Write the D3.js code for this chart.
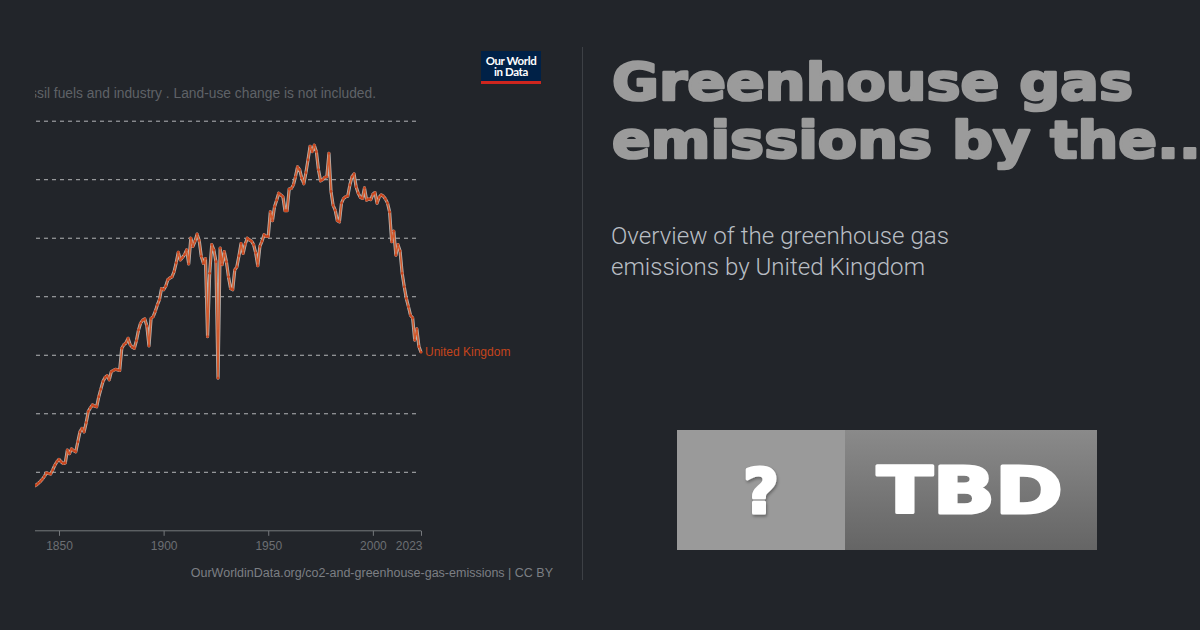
<!DOCTYPE html>
<html lang="en">
<head>
  <meta charset="UTF-8">
  <title>Greenhouse gas emissions by the United Kingdom</title>
  <script src="https://d3js.org/d3.v7.min.js"></script>
  <style>
    html, body {
      margin: 0;
      padding: 0;
      background-color: #22252a;
    }
    svg {
      display: block;
    }
  </style>
</head>
<body>
  <div id="viz"></div>

  <script>
    // Annual CO2 emissions, United Kingdom (million tonnes)
    const firstYear = 1838;
    const emissions = [
      76, 78, 81, 84, 88, 93, 99, 98, 97, 104, 112, 118,           // 1838-1849
      122, 118, 115, 116, 138, 132, 140, 137, 135, 152,           // 1850-1859
      169, 175, 169, 185, 204, 210, 215, 213, 212, 229,           // 1860-1869
      242, 255, 262, 265, 258, 272, 274, 276, 275, 274,           // 1870-1879
      312, 318, 321, 329, 318, 314, 312, 325, 343, 355,           // 1880-1889
      360, 362, 350, 316, 363, 366, 375, 386, 395, 414,           // 1890-1899
      412, 418, 429, 432, 434, 443, 458, 476, 463, 467,           // 1900-1909
      472, 480, 456, 500, 486, 495, 507, 496, 469, 457,           // 1910-1919
      465, 332, 440, 489, 480, 460, 261, 483, 455, 477,           // 1920-1929
      460, 434, 414, 412, 446, 451, 470, 491, 474, 490,           // 1930-1939
      500, 497, 495, 489, 475, 453, 486, 495, 506, 503,           // 1940-1949
      503, 545, 530, 554, 565, 577, 574, 571, 547, 547,           // 1950-1959
      584, 585, 591, 605, 622, 617, 603, 593, 612, 634,           // 1960-1969
      657, 648, 659, 648, 617, 598, 600, 604, 605, 645,           // 1970-1979
      580, 556, 548, 530, 528, 560, 568, 571, 572, 591,           // 1980-1989
      605, 610, 588, 577, 570, 568, 586, 565, 567, 566,           // 1990-1999
      575, 578, 560, 570, 574, 572, 567, 560, 545, 494,           // 2000-2009
      512, 471, 489, 478, 440, 417, 397, 383, 368, 364,           // 2010-2019
      326, 345, 315, 305                                          // 2020-2023
    ];
    const years = d3.range(firstYear, firstYear + emissions.length);
    const series = years.map((y, i) => ({ year: y, value: emissions[i] }));

    const xTicks = [1850, 1900, 1950, 2000, 2023];
    const yGrid = [100, 200, 300, 400, 500, 600, 700];
    const entityName = "United Kingdom";

    const titleLines = ["Greenhouse gas", "emissions by the..."];
    const subtitleLines = ["Overview of the greenhouse gas", "emissions by United Kingdom"];
    const chartSubtitle = "fossil fuels and industry . Land-use change is not included.";
    const sourceText = "OurWorldinData.org/co2-and-greenhouse-gas-emissions | CC BY";

    const svg = d3.select("#viz").append("svg")
      .attr("width", 1200)
      .attr("height", 630);

    const defs = svg.append("defs");
    defs.append("clipPath").attr("id", "chartClip")
      .append("rect").attr("x", 35).attr("y", 0).attr("width", 545).attr("height", 630);

    const grad = defs.append("linearGradient").attr("id", "tbdGrad")
      .attr("x1", 0).attr("y1", 0).attr("x2", 0).attr("y2", 1);
    grad.append("stop").attr("offset", "0%").attr("stop-color", "#8a8a8a");
    grad.append("stop").attr("offset", "100%").attr("stop-color", "#656565");

    const shadow = defs.append("filter").attr("id", "qShadow")
      .attr("x", "-20%").attr("y", "-20%").attr("width", "140%").attr("height", "140%");
    shadow.append("feDropShadow").attr("dx", 1).attr("dy", 2).attr("stdDeviation", 1.5)
      .attr("flood-color", "#000").attr("flood-opacity", 0.35);

    // ---- chart (clipped on the left like the thumbnail) ----
    const chart = svg.append("g").attr("clip-path", "url(#chartClip)");

    const x = d3.scaleLinear()
      .domain([1850, 2023])
      .range([59, 421]);

    const y = d3.scaleLinear()
      .domain([0, 700])
      .range([530.8, 121.2]);

    // chart subtitle (cut off on the left)
    const subFont = "13.8px";
    const sub = chart.append("text")
      .attr("y", 98)
      .attr("font-family", "Liberation Sans, Arial, sans-serif")
      .attr("font-size", subFont)
      .attr("fill", "#5f6267")
      .text(chartSubtitle);
    const tmp = chart.append("text")
      .attr("font-family", "Liberation Sans, Arial, sans-serif")
      .attr("font-size", subFont)
      .text("fos");
    const cut = tmp.node().getComputedTextLength();
    tmp.remove();
    sub.attr("x", 37 - cut);

    // gridlines
    chart.append("g")
      .selectAll("line")
      .data(yGrid)
      .enter()
      .append("line")
      .attr("x1", 20)
      .attr("x2", 420)
      .attr("y1", d => y(d))
      .attr("y2", d => y(d))
      .attr("stroke", "#b4b6b8")
      .attr("stroke-width", 1)
      .attr("stroke-dasharray", "4,4");

    // x axis
    const xAxis = chart.append("g")
      .attr("transform", `translate(0, ${y(0)})`)
      .call(d3.axisBottom(x).tickValues(xTicks).tickSize(5).tickSizeOuter(0).tickFormat(d3.format("d")));
    xAxis.select(".domain").remove();
    xAxis.append("line")
      .attr("x1", 20).attr("x2", x(2023))
      .attr("stroke", "#76797d").attr("stroke-width", 1);
    xAxis.selectAll(".tick line").attr("stroke", "#76797d");
    xAxis.selectAll(".tick text")
      .attr("fill", "#6c6f73")
      .attr("font-family", "Liberation Sans, Arial, sans-serif")
      .attr("font-size", "12px")
      .attr("dy", "0.9em");
    xAxis.selectAll(".tick").filter(d => d === 2023)
      .select("text").attr("text-anchor", "end").attr("x", 1);

    const line = d3.line()
      .x(d => x(d.year))
      .y(d => y(d.value));

    chart.append("path")
      .datum(series)
      .attr("fill", "none")
      .attr("stroke", "#b9b4b0")
      .attr("stroke-width", 3.2)
      .attr("stroke-linejoin", "round")
      .attr("d", line);

    chart.append("path")
      .datum(series)
      .attr("fill", "none")
      .attr("stroke", "#d4501f")
      .attr("stroke-opacity", 0.9)
      .attr("stroke-width", 1.6)
      .attr("stroke-linejoin", "round")
      .attr("d", line);

    chart.selectAll("circle.pt")
      .data(series)
      .enter()
      .append("circle")
      .attr("class", "pt")
      .attr("cx", d => x(d.year))
      .attr("cy", d => y(d.value))
      .attr("r", 1.4)
      .attr("fill", "#c8461f");

    const last = series[series.length - 1];
    chart.append("text")
      .attr("x", x(last.year) + 4)
      .attr("y", y(last.value) + 4)
      .attr("font-family", "Liberation Sans, Arial, sans-serif")
      .attr("font-size", "12px")
      .attr("fill", "#c4441c")
      .text(entityName);

    // source
    svg.append("text")
      .attr("x", 553)
      .attr("y", 577)
      .attr("text-anchor", "end")
      .attr("font-family", "Liberation Sans, Arial, sans-serif")
      .attr("font-size", "12.5px")
      .attr("fill", "#7c7f84")
      .text(sourceText);

    // OWID logo
    const logo = svg.append("g").attr("transform", "translate(481,51)");
    logo.append("rect").attr("width", 60).attr("height", 30).attr("fill", "#002147");
    logo.append("rect").attr("y", 30).attr("width", 60).attr("height", 3).attr("fill", "#ce261e");
    logo.selectAll("text")
      .data(["Our World", "in Data"])
      .enter()
      .append("text")
      .attr("x", 30)
      .attr("y", (d, i) => 14 + i * 11)
      .attr("text-anchor", "middle")
      .attr("font-family", "Lato, sans-serif")
      .attr("font-weight", "bold")
      .attr("font-size", "11.5px")
      .attr("letter-spacing", "-0.4px")
      .attr("fill", "#fff")
      .text(d => d);

    // divider
    svg.append("line")
      .attr("x1", 582.5).attr("x2", 582.5)
      .attr("y1", 47).attr("y2", 580)
      .attr("stroke", "#3d4045").attr("stroke-width", 1);

    // ---- right panel ----
    const heavy = sel => sel
      .attr("font-family", "DejaVu Sans, sans-serif")
      .attr("font-weight", "bold")
      .attr("stroke-linejoin", "round");

    const title = svg.append("g");
    const t1 = title.append("text")
      .attr("x", 612).attr("y", 100)
      .call(heavy)
      .attr("font-size", "51px")
      .attr("fill", "#9b9b9b")
      .attr("stroke", "#9b9b9b")
      .attr("stroke-width", 2.6)
      .text(titleLines[0]);
    const w1 = t1.node().getComputedTextLength();
    const stretch = 521 / w1;
    t1.attr("textLength", 521).attr("lengthAdjust", "spacingAndGlyphs");
    const t2 = title.append("text")
      .attr("x", 612).attr("y", 158)
      .call(heavy)
      .attr("font-size", "51px")
      .attr("fill", "#9b9b9b")
      .attr("stroke", "#9b9b9b")
      .attr("stroke-width", 2.6)
      .text(titleLines[1]);
    const w2 = t2.node().getComputedTextLength();
    t2.attr("textLength", w2 * stretch).attr("lengthAdjust", "spacingAndGlyphs");

    const subWidths = [338, 314];
    svg.append("g").selectAll("text")
      .data(subtitleLines)
      .enter()
      .append("text")
      .attr("x", 611)
      .attr("y", (d, i) => 244 + i * 31)
      .attr("font-family", "Roboto, sans-serif")
      .attr("font-weight", 300)
      .attr("font-size", "23px")
      .attr("textLength", (d, i) => subWidths[i])
      .attr("lengthAdjust", "spacingAndGlyphs")
      .attr("fill", "#b9bec4")
      .text(d => d);

    // TBD badge
    const badge = svg.append("g").attr("transform", "translate(677,430)");
    badge.append("rect").attr("width", 168).attr("height", 120).attr("fill", "#9a9a9a");
    badge.append("rect").attr("x", 168).attr("width", 252).attr("height", 120).attr("fill", "url(#tbdGrad)");
    badge.append("text")
      .attr("x", 84).attr("y", 83)
      .attr("text-anchor", "middle")
      .call(heavy)
      .attr("font-size", "62px")
      .attr("fill", "#fff")
      .attr("stroke", "#fff")
      .attr("stroke-width", 3)
      .attr("filter", "url(#qShadow)")
      .text("?");
    badge.append("text")
      .attr("x", 293).attr("y", 83)
      .attr("text-anchor", "middle")
      .call(heavy)
      .attr("font-size", "64px")
      .attr("textLength", 186)
      .attr("lengthAdjust", "spacingAndGlyphs")
      .attr("fill", "#fff")
      .attr("stroke", "#fff")
      .attr("stroke-width", 3)
      .text("TBD");
  </script>
</body>
</html>
